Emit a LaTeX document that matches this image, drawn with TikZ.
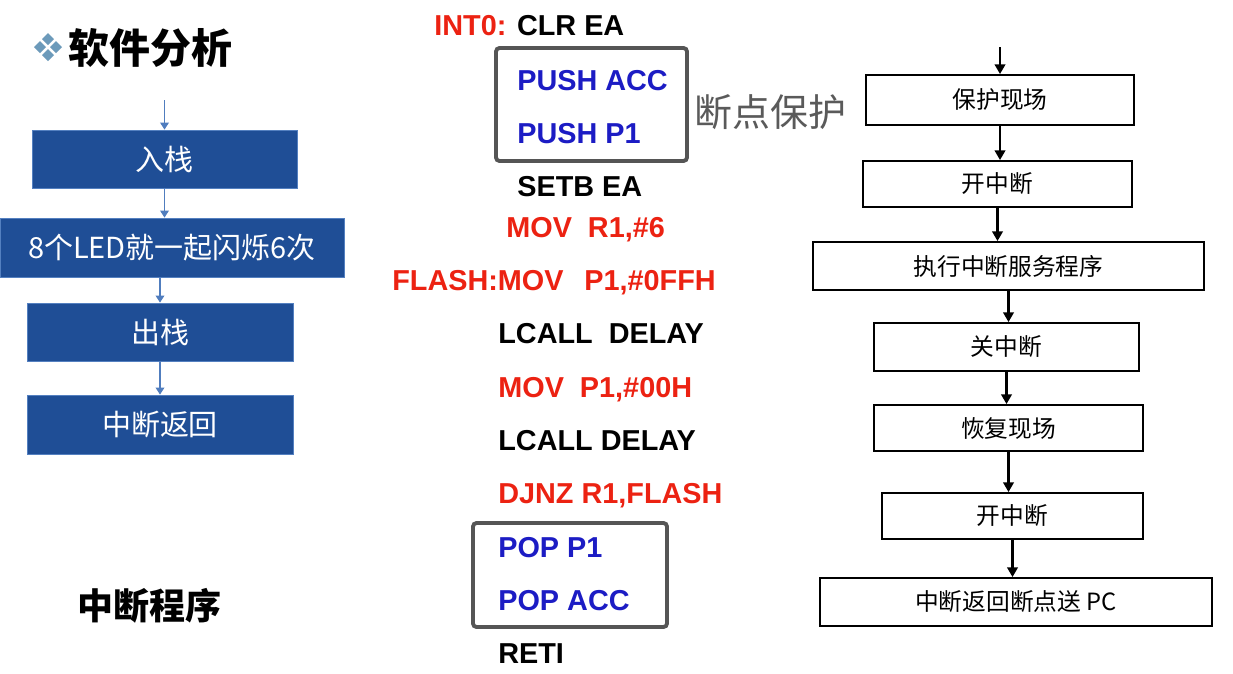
\documentclass[tikz,border=0pt]{standalone}
\usepackage{fontspec}
\setmainfont{Liberation Sans}
\newfontfamily\cjk{Noto Sans CJK SC}
\usetikzlibrary{positioning,fit,arrows.meta,shapes.geometric}

\definecolor{slideblue}{RGB}{31,78,150}
\definecolor{slideedge}{RGB}{84,128,192}
\definecolor{linkblue}{RGB}{80,125,190}
\definecolor{codered}{RGB}{236,34,18}
\definecolor{codeblue}{RGB}{28,28,196}
\definecolor{framegray}{RGB}{85,85,85}
\definecolor{notegray}{RGB}{90,90,90}
\definecolor{bulletblue}{RGB}{108,154,186}

\tikzstyle{stepbox} = [rectangle, 
draw=slideedge, 
line width=0.5pt, 
fill=slideblue, 
text=white, 
inner sep=0pt, 
font=\cjk\fontsize{16.5}{20}\selectfont]
\tikzstyle{flowbox} = [rectangle, 
draw=black, 
line width=1.1pt, 
inner sep=0pt, 
font=\cjk\fontsize{13.5}{16}\selectfont]
\tikzstyle{code} = [anchor=base west, 
inner sep=0pt, 
font=\bfseries\fontsize{16.4}{20}\selectfont]
\tikzstyle{groupbox} = [rectangle, rounded corners=2pt, 
draw=framegray, 
line width=2.2pt, 
inner sep=0pt]
\tikzstyle{bluearrow} = [draw=linkblue, line width=0.6pt, -{Triangle[length=4pt,width=5pt]}]
\tikzstyle{arrow} = [line width=1.2pt, -{Triangle[length=5.5pt,width=6pt]}]

\begin{document}
\begin{tikzpicture}[x=0.02cm, y=-0.02cm]

\fill[white] (0,0) rectangle (1233,673);
\useasboundingbox (0,0) rectangle (1233,673);

% title
\foreach \dx/\dy in {0/-8, -8/0, 8/0, 0/8}
  \fill[bulletblue] (48+\dx,41+\dy) -- (54+\dx,47+\dy) -- (48+\dx,53+\dy) -- (42+\dx,47+\dy) -- cycle;
\node (title) [anchor=west, inner sep=0pt, font=\cjk\bfseries\fontsize{23.3}{26}\selectfont] at (68,48) {软件分析};
\node (isr) [anchor=west, inner sep=0pt, font=\cjk\bfseries\fontsize{20.5}{24}\selectfont] at (77,606) {中断程序};

% left flow
\coordinate (entry) at (164.5,100);
\node (push) [stepbox, minimum width=5.3cm, minimum height=1.16cm] at (164.5,159) {入栈};
\node (blink) [stepbox, minimum width=6.88cm, minimum height=1.18cm] at (172,247.5) {8个LED就一起闪烁6次};
\node (pop) [stepbox, minimum width=5.32cm, minimum height=1.16cm] at (160,332) {出栈};
\node (back) [stepbox, minimum width=5.32cm, minimum height=1.18cm] at (160,424.5) {中断返回};

\draw [bluearrow] (entry) -- (push);
\draw [bluearrow] (push.south) -- (push.south |- blink.north);
\draw [bluearrow] (pop.north |- blink.south) -- (pop.north);
\draw [bluearrow] (pop.south) -- (back.north);

% code
\node (l1) [code] at (434,35) {\textcolor{codered}{INT0:} CLR EA};
\node (l2) [code, text=codeblue] at (517,90) {PUSH ACC};
\node (l3) [code, text=codeblue] at (517,143) {PUSH P1};
\node (l4) [code] at (517,196) {SETB EA};
\node (l5) [code, text=codered] at (506,237) {MOV\ \ R1,\#6};
\node (l6) [code, text=codered] at (392,290) {FLASH:MOV\ \ \,P1,\#0FFH};
\node (l7) [code] at (498,343) {LCALL\ \ DELAY};
\node (l8) [code, text=codered] at (498,397) {MOV\ \ P1,\#00H};
\node (l9) [code] at (498,450) {LCALL DELAY};
\node (l10) [code, text=codered] at (498,503) {DJNZ R1,FLASH};
\node (l11) [code, text=codeblue] at (498,557) {POP P1};
\node (l12) [code, text=codeblue] at (498,610) {POP ACC};
\node (l13) [code] at (498,663) {RETI};

\node (pushgrp) [groupbox, fit={(496,48) (687,161)}] {};
\node (popgrp) [groupbox, fit={(473,523) (667,627)}] {};
\node (note) [anchor=west, inner sep=0pt, text=notegray, font=\cjk\fontsize{21.6}{25}\selectfont] at (694,112) {断点保护};

% right flow
\coordinate (start) at (1000,47);
\node (p1) [flowbox, minimum width=5.36cm, minimum height=1.0cm] at (1000,100) {保护现场};
\node (p2) [flowbox, minimum width=5.38cm, minimum height=0.92cm] at (997.5,184) {开中断};
\node (p3) [flowbox, minimum width=7.82cm, minimum height=0.96cm] at (1008.5,266) {执行中断服务程序};
\node (p4) [flowbox, minimum width=5.3cm, minimum height=0.96cm] at (1006.5,347) {关中断};
\node (p5) [flowbox, minimum width=5.38cm, minimum height=0.92cm] at (1008.5,428) {恢复现场};
\node (p6) [flowbox, minimum width=5.22cm, minimum height=0.92cm] at (1012.5,516) {开中断};
\node (p7) [flowbox, minimum width=7.84cm, minimum height=0.96cm] at (1016,602) {中断返回断点送 PC};

\draw [arrow] (start) -- (p1);
\draw [arrow] (p1.south) -- (p1.south |- p2.north);
\draw [arrow] (p2.south) -- (p2.south |- p3.north);
\draw [arrow] (p3.south) -- (p3.south |- p4.north);
\draw [arrow] (p4.south) -- (p4.south |- p5.north);
\draw [arrow] (p5.south) -- (p5.south |- p6.north);
\draw [arrow] (p6.south) -- (p6.south |- p7.north);

\end{tikzpicture}
\end{document}
